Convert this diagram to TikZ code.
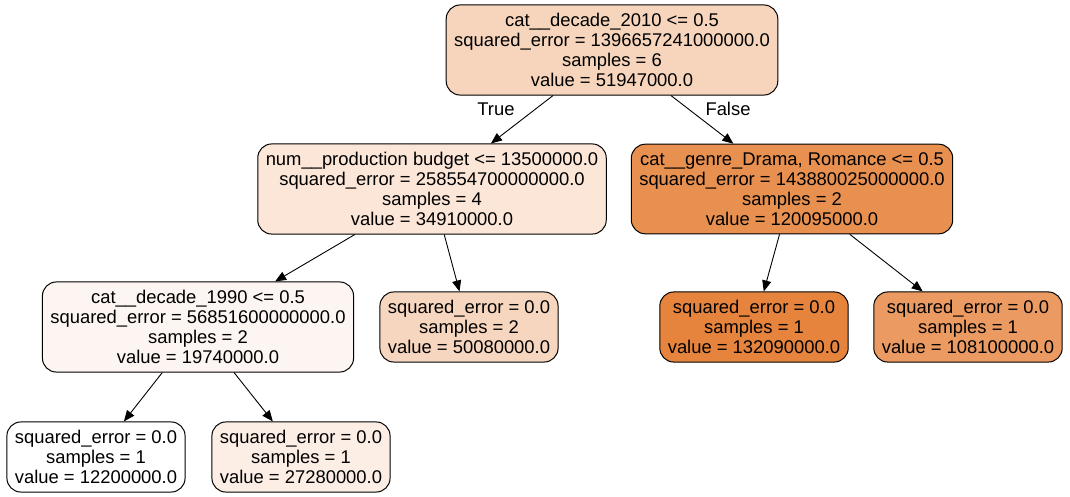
\documentclass[tikz,border=0pt]{standalone}
\usepackage{fontspec}
\setmainfont{Liberation Sans}
\usetikzlibrary{arrows.meta}
\definecolor{cRoot}{HTML}{F6D5BC}
\definecolor{cL}{HTML}{FBE6D8}
\definecolor{cR}{HTML}{E89050}
\definecolor{cLL}{HTML}{FCF5F1}
\definecolor{cLR}{HTML}{F7D6BF}
\definecolor{cRL}{HTML}{E6843E}
\definecolor{cRR}{HTML}{EB9B62}
\definecolor{cLLL}{HTML}{FFFFFF}
\definecolor{cLLR}{HTML}{FCEEE5}
\begin{document}
\begin{tikzpicture}[x=1pt,y=-1pt,
		tree/.style={draw=black,line width=1pt,rounded corners=14pt,align=center,
			inner xsep=8pt,inner ysep=8.3pt,font=\fontsize{18.4}{20}\selectfont},
		edge/.style={-{Triangle[length=11pt,width=9pt]},line width=0.9pt},
		lbl/.style={font=\fontsize{18.4}{20}\selectfont}]
	\useasboundingbox (0,0) rectangle (1070,497);
	% split nodes
	\node[tree,fill=cRoot] (root) at (612,50) {cat\_\_decade\_2010 <= 0.5\\squared\_error = 1396657241000000.0\\samples = 6\\value = 51947000.0};
	\node[tree,fill=cL] (nL) at (432,189) {num\_\_production budget <= 13500000.0\\squared\_error = 258554700000000.0\\samples = 4\\value = 34910000.0};
	\node[tree,fill=cR] (nR) at (792,189) {cat\_\_genre\_Drama, Romance <= 0.5\\squared\_error = 143880025000000.0\\samples = 2\\value = 120095000.0};
	\node[tree,fill=cLL] (nLL) at (198,327) {cat\_\_decade\_1990 <= 0.5\\squared\_error = 56851600000000.0\\samples = 2\\value = 19740000.0};
	% leaves
	\node[tree,fill=cLR] (nLR) at (469,327) {squared\_error = 0.0\\samples = 2\\value = 50080000.0};
	\node[tree,fill=cRL] (nRL) at (754,327) {squared\_error = 0.0\\samples = 1\\value = 132090000.0};
	\node[tree,fill=cRR] (nRR) at (968,327) {squared\_error = 0.0\\samples = 1\\value = 108100000.0};
	\node[tree,fill=cLLL] (nLLL) at (96,457) {squared\_error = 0.0\\samples = 1\\value = 12200000.0};
	\node[tree,fill=cLLR] (nLLR) at (301,457) {squared\_error = 0.0\\samples = 1\\value = 27280000.0};
	% edges
	\draw[edge] (root) -- (nL);
	\draw[edge] (root) -- (nR);
	\draw[edge] (nL) -- (nLL);
	\draw[edge] (nL) -- (nLR);
	\draw[edge] (nR) -- (nRL);
	\draw[edge] (nR) -- (nRR);
	\draw[edge] (nLL) -- (nLLL);
	\draw[edge] (nLL) -- (nLLR);
	\node[lbl] (lblT) at (496,109) {True};
	\node[lbl] (lblF) at (728,109) {False};
\end{tikzpicture}
\end{document}
